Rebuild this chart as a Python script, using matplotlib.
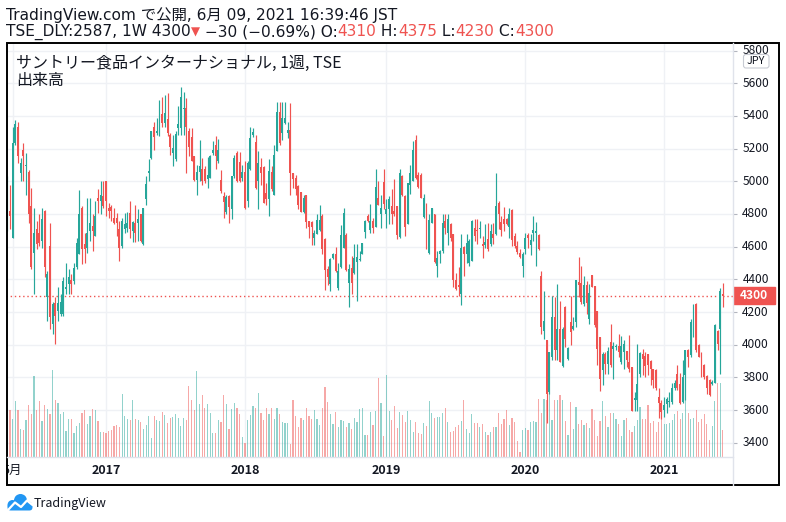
import matplotlib
matplotlib.use('Agg')
import matplotlib.pyplot as plt
import numpy as np
import pandas as pd
from matplotlib import transforms
from matplotlib.patches import Rectangle, FancyBboxPatch, Circle

plt.rcParams['font.family'] = ['Noto Sans CJK JP', 'DejaVu Sans']
HEAD_FONT = ['DejaVu Sans', 'Noto Sans CJK JP']

# ---------------- data (weekly, TSE:2587) ----------------
start_date = '2016-04-18'

opens = [4757,4818,4655,5234,5335,5051,5189,5093,5057,4848,
4564,4706,4686,4635,4818,4290,4605,4127,4253,4209,
4188,4188,4341,4371,4395,4391,4473,4554,4838,4615,
4594,4696,4726,4665,4899,4879,4909,5000,4838,4842,
4777,4777,4706,4605,4706,4716,4808,4696,4747,4747,
4797,4615,4889,5051,5142,5335,5295,5305,5410,5356,
5380,5285,5173,5138,5325,5325,5443,5447,5305,5274,
5153,5011,5057,5077,5077,5017,5021,5173,5224,5122,
5011,4909,4814,4909,4828,5031,5173,5118,5021,5057,
4879,5077,5285,5238,5000,5086,5086,4929,4889,5057,
4919,5183,5427,5295,5356,5295,5315,5049,5021,4970,
4935,4814,4919,4757,4753,4655,4676,4700,4787,4645,
4462,4371,4529,4554,4347,4473,4594,4671,4375,4468,
4436,4509,4519,4558,4692,4787,4700,4757,4720,4899,
4797,4996,4797,4828,4848,4818,4848,4659,5031,4909,
4741,4980,5000,5254,5037,5037,4781,4858,4564,4747,
4797,4483,4558,4574,4757,4686,4736,4676,4395,4367,
4310,4598,4554,4497,4513,4716,4700,4706,4615,4611,
4645,4615,4676,4676,4868,4753,4767,4767,4720,4822,
4665,4605,4564,4483,4584,4671,4611,4686,4686,4671,
4422,4083,4030,3711,3924,4172,3965,4097,3870,4233,
3914,4138,4097,4138,4381,4375,4249,4367,4158,4428,
4361,4209,4046,3843,3945,3880,4016,3975,3985,3989,
3894,3955,3961,3894,3864,3661,3661,3823,3941,3929,
3945,3900,3853,3847,3677,3640,3600,3636,3650,3650,
3732,3823,3762,3650,3813,3969,3935,4107,4249,3996,
3935,3874,3807,3782,3762,3766,4083,4097,4310]

highs = [5035,4980,5331,5376,5366,5142,5234,5173,5070,4960,
4838,4757,4797,4838,4825,4452,4747,4259,4290,4351,
4310,4412,4497,4462,4432,4503,4655,4944,4848,4686,
4899,4899,4797,4879,4950,5000,5000,5000,4868,4858,
4838,4808,4757,4777,4808,4814,4879,4757,4854,4828,
4801,4838,5031,5138,5309,5366,5386,5498,5518,5528,
5538,5295,5285,5305,5463,5579,5548,5508,5325,5325,
5153,5102,5254,5142,5092,5147,5159,5244,5280,5260,
5071,4935,4919,4919,5031,5159,5187,5179,5102,5122,
5122,5335,5329,5285,5187,5142,5092,4990,5138,5092,
5224,5488,5488,5488,5488,5366,5477,5051,5041,4980,
4935,4919,4919,4757,4757,4700,4797,4854,4797,4655,
4483,4533,4564,4598,4503,4732,4838,4686,4493,4544,
4615,4615,4574,4625,4761,4797,4862,4777,5077,5000,
4919,5077,4889,4909,4950,5017,4848,5077,5041,4919,
4990,5102,5248,5285,5057,5051,4923,4868,4797,4838,
4801,4574,4578,4801,4797,4801,4747,4676,4436,4473,
4680,4605,4676,4645,4761,4767,4767,4757,4665,4741,
4747,4741,4747,5051,4879,4787,4842,4773,4834,4828,
4686,4635,4584,4570,4686,4686,4676,4787,4753,4676,
4448,4330,4030,3955,4300,4290,4371,4270,4107,4239,
3985,4300,4168,4395,4538,4483,4422,4391,4371,4428,
4361,4209,4046,3955,3955,3985,4127,4016,4006,4067,
4056,4026,3961,4062,3864,3711,4006,3955,3975,3955,
3945,3908,3853,3853,3732,3661,3681,3681,3711,3766,
3782,3874,3827,3904,3965,3975,4158,4249,4253,4002,
3955,3884,3813,3792,3782,4127,4091,4345,4375]

lows = [4696,4706,4651,5224,5112,5000,5000,4919,4747,4466,
4310,4584,4605,4594,4412,4148,4097,4067,4006,4148,
4178,4178,4310,4310,4310,4371,4462,4554,4493,4503,
4564,4635,4574,4665,4808,4797,4838,4787,4777,4757,
4737,4665,4513,4594,4686,4692,4655,4629,4631,4635,
4631,4611,4854,5000,5136,5189,5285,5280,5335,5335,
5280,5163,5092,5122,5285,5285,5285,5051,5153,5122,
5000,4919,5000,4980,4990,4960,5021,5163,5077,5112,
4929,4777,4803,4747,4771,5021,4996,4996,5000,4828,
4842,5071,5274,4956,4832,4980,4868,4858,4787,4939,
4919,5183,5224,5254,5350,5264,4919,4960,4919,4828,
4814,4808,4716,4655,4611,4611,4676,4696,4558,4335,
4367,4330,4523,4442,4335,4468,4590,4452,4233,4310,
4432,4270,4513,4554,4655,4753,4686,4686,4720,4858,
4716,4828,4716,4736,4741,4787,4645,4651,4909,4665,
4736,4923,5000,5017,4960,4899,4777,4584,4558,4747,
4503,4416,4503,4564,4676,4611,4635,4355,4335,4300,
4245,4422,4503,4483,4513,4635,4615,4655,4533,4594,
4574,4605,4615,4671,4706,4665,4696,4732,4655,4605,
4594,4554,4529,4416,4554,4594,4550,4635,4483,4578,
4067,4036,3518,3701,3904,3904,3904,3894,3864,3985,
3908,3996,4087,4107,4290,4249,4239,4188,4127,4351,
4107,3874,3717,3752,3823,3823,3864,3792,3965,3924,
3884,3853,3864,3833,3596,3596,3596,3803,3813,3803,
3813,3752,3732,3721,3549,3543,3559,3579,3620,3636,
3721,3721,3636,3640,3661,3864,3924,4046,3955,3924,
3803,3792,3701,3685,3752,3766,3965,3823,4230]

closes = [4889,4787,5234,5350,5153,5112,5153,5101,4797,4473,
4686,4615,4625,4767,4473,4432,4168,4249,4178,4253,
4259,4391,4351,4412,4371,4468,4625,4803,4584,4584,
4686,4747,4696,4787,4879,4919,4848,4879,4818,4818,
4747,4747,4594,4757,4737,4747,4706,4753,4686,4771,
4635,4838,4984,5065,5305,5274,5305,5457,5356,5417,
5295,5213,5207,5289,5350,5518,5447,5335,5213,5122,
5011,5057,5092,5000,5000,5037,5153,5189,5153,5193,
4939,4874,4903,4842,5031,5142,5000,5000,5057,4838,
5112,5268,5301,4960,5112,5051,4868,4889,5061,4950,
5163,5427,5234,5390,5390,5315,5051,5017,4950,4858,
4814,4899,4753,4720,4720,4686,4761,4761,4584,4456,
4412,4523,4554,4452,4448,4671,4808,4456,4462,4375,
4533,4538,4527,4621,4757,4757,4757,4716,4964,4858,
4838,4862,4828,4889,4801,4801,4671,5051,4915,4720,
4990,5051,5193,5021,4964,4899,4899,4635,4761,4838,
4509,4533,4574,4747,4716,4767,4651,4395,4341,4351,
4594,4558,4625,4635,4757,4665,4696,4716,4605,4631,
4584,4696,4655,4848,4797,4700,4741,4741,4801,4639,
4605,4570,4538,4554,4651,4651,4639,4700,4696,4584,
4107,4148,3701,3955,4172,3965,4097,3894,4097,4036,
3979,4077,4117,4395,4367,4259,4367,4253,4314,4351,
4123,3975,3792,3941,3884,3961,3874,3989,3991,3955,
3989,4006,3904,3853,3596,3671,3762,3949,3914,3868,
3874,3853,3782,3732,3640,3590,3630,3665,3656,3732,
3766,3732,3640,3803,3965,3924,4138,4138,3965,3924,
3803,3803,3732,3691,3772,4123,4006,4330,4300]

volumes = [122,140,115,167,140,85,80,110,155,128,
242,140,167,107,155,145,128,260,172,162,
128,134,77,115,115,72,92,102,132,142,
98,122,145,142,107,75,75,72,78,80,
94,95,90,188,122,115,112,172,115,112,
104,85,95,122,58,122,110,107,135,125,
102,117,120,128,117,92,118,112,212,170,
142,257,158,185,147,158,132,72,72,112,
105,185,158,85,145,162,147,128,60,42,
112,125,152,147,191,132,110,147,128,148,
113,147,128,104,102,102,38,172,122,90,
118,112,148,122,115,140,115,95,148,210,
164,128,100,134,90,110,107,90,102,83,
118,104,143,148,65,
65,135,95,137,237,162,62,245,137,
110,152,87,135,125,105,137,112,75,105,
72,70,102,92,167,132,118,120,120,132,
147,105,75,78,90,95,107,172,85,72,
130,102,102,90,100,75,65,75,90,90,
132,100,115,140,95,118,105,48,15,82,
87,82,105,107,105,175,132,175,170,195,
110,172,170,187,172,108,65,165,85,150,
98,110,95,102,88,145,110,62,107,167,
122,90,132,132,115,98,62,112,118,82,
75,92,112,150,115,115,157,102,108,75,
105,137,98,98,102,110,128,137,115,132,
192,132,115,118,140,105,115,128,98,52,
92,168,222,222,82]

price_levels = [3400, 3600, 3800, 4000, 4200, 4400, 4600, 4800, 5000, 5200, 5400, 5600, 5800]
tick_dates = ['2016-05-02', '2017-01-02', '2018-01-01', '2019-01-07', '2020-01-06', '2021-01-04']
tick_labels = ['5月', '2017', '2018', '2019', '2020', '2021']

header1 = 'TradingView.com で公開, 6月 09, 2021 16:39:46 JST'
symbol = 'TSE_DLY:2587, 1W'
change_txt = ' \u221230 (\u22120.69%)'
title_txt = 'サントリー食品インターナショナル, 1週, TSE'
volume_txt = '出来高'

# ---------------- layout ----------------
UP, DN = '#26a69a', '#ef5350'
TXT = '#131722'
W, H = 786, 522
fig = plt.figure(figsize=(W / 100, H / 100), dpi=100)
fig.patch.set_facecolor('white')


def frac(x0, y0, x1, y1):
    return [x0 / W, 1 - y1 / H, (x1 - x0) / W, (y1 - y0) / H]


PL, PR, PT, PB = 6.5, 733.3, 43.0, 457.0
FR, FB = 779.0, 485.0
STEP, X0 = 2.67, 7.3

o = np.array(opens, float)
h = np.array(highs, float)
l = np.array(lows, float)
c = np.array(closes, float)
v = np.array(volumes, float)
n = len(c)
x = np.arange(n)
dates = pd.date_range(start_date, periods=n, freq='7D')
tick_pos = dates.get_indexer(pd.to_datetime(tick_dates))

xlim = ((PL - X0) / STEP, (PR - X0) / STEP)
ylim = (3312.5, 5846.7)

ax_vol = fig.add_axes(frac(PL, PT, PR, PB))
ax = fig.add_axes(frac(PL, PT, PR, PB))
for a in (ax_vol, ax):
    a.set_xlim(*xlim)
    a.axis('off')
ax.set_ylim(*ylim)
ax_vol.set_ylim(0, 1241)

# grid (behind volume)
GRID = '#eff1f5'
for p in tick_pos:
    ax_vol.axvline(p, color=GRID, lw=1, zorder=0)
gtrans = transforms.blended_transform_factory(ax_vol.transAxes, ax.transData)
for lvl in price_levels:
    ax_vol.plot([0, 1], [lvl, lvl], transform=gtrans, color=GRID, lw=1, zorder=0)

up = c >= o
cols = np.where(up, UP, DN)
ax_vol.bar(x, v, width=0.45, color=cols, alpha=0.5, linewidth=0, zorder=2)

# candles
ax.axhline(c[-1], color=DN, lw=1, ls=(0, (1, 2)), zorder=1)
ax.vlines(x, l, h, colors=cols, linewidth=0.85, zorder=3)
ax.bar(x, np.maximum(np.abs(c - o), 6), bottom=np.minimum(o, c), width=0.74,
       color=cols, linewidth=0, zorder=4)

# price scale
ax_p = fig.add_axes(frac(PR, PT, FR, PB))
ax_p.set_xlim(0, FR - PR)
ax_p.set_ylim(*ylim)
ax_p.axis('off')
ax_p.hlines(price_levels, 0, 3.5, color='#b2b5be', lw=0.8)
for lvl in price_levels:
    ax_p.text(22.3, lvl, f'{lvl}', ha='center', va='center', fontsize=8.6,
              color=TXT, clip_on=True)
ax_p.add_patch(Rectangle((0, c[-1] - 52), 41.7, 104, color=DN, zorder=5))
ax_p.text(21, c[-1], f'{int(c[-1])}', ha='center', va='center', fontsize=8.6,
          color='white', fontweight='bold', zorder=6)

# time scale
ax_t = fig.add_axes(frac(PL, PB, PR, FB))
ax_t.set_xlim(*xlim)
ax_t.set_ylim(FB, PB)
ax_t.axis('off')
for p, lab in zip(tick_pos, tick_labels):
    ax_t.text(p, 470.7, lab, ha='center', va='center', fontsize=9, color=TXT,
              fontweight='normal' if lab.endswith('月') else 'bold', clip_on=True)

# overlay (pixel coordinates)
ov = fig.add_axes([0, 0, 1, 1], zorder=10)
ov.set_xlim(0, W)
ov.set_ylim(H, 0)
ov.axis('off')
ov.plot([PR, PR], [PT, FB], color='#e0e3eb', lw=1)
ov.plot([PL, PR], [PB, PB], color='#e0e3eb', lw=1)
ov.add_patch(Rectangle((PL, PT), FR - PL, FB - PT, fill=False, ec='black', lw=1.4))
ov.add_patch(FancyBboxPatch((743.5, 54.5), 25.5, 13.5,
                            boxstyle='round,pad=0,rounding_size=2.5',
                            fc='white', ec='#c8cbd3', lw=0.8))
ov.text(756.2, 61.3, 'JPY', ha='center', va='center', fontsize=7.8, color=TXT)

HS = 11.1
ov.text(6, 15, header1, fontsize=HS, va='center', color=TXT, family=HEAD_FONT)
renderer = fig.canvas.get_renderer()
pieces = [(symbol + ' ' + f'{int(c[-1])}', TXT, HS),
          ('\u25bc', DN, 8.5),
          (change_txt + ' O:', TXT, HS), (f'{int(o[-1])}', DN, HS),
          (' H:', TXT, HS), (f'{int(h[-1])}', DN, HS),
          (' L:', TXT, HS), (f'{int(l[-1])}', DN, HS),
          (' C:', TXT, HS), (f'{int(c[-1])}', DN, HS)]
xc = 6
for s, col, fs in pieces:
    t = ov.text(xc, 32, s, fontsize=fs, va='center', color=col, family=HEAD_FONT)
    xc += t.get_window_extent(renderer).width

ov.text(16, 63, title_txt, fontsize=11.5, va='center', color=TXT)
ov.text(16, 81, volume_txt, fontsize=11.5, va='center', color=TXT)

# footer logo
LOGO = '#2196f3'
for cx, cy, r in [(12.5, 505, 5), (20.5, 500.5, 6.5), (28, 505.5, 4.2)]:
    ov.add_patch(Circle((cx, cy), r, color=LOGO, lw=0))
ov.add_patch(FancyBboxPatch((7.5, 504), 25, 6.5, boxstyle='round,pad=0,rounding_size=3.2',
                            color=LOGO, lw=0))
ov.plot([8.5, 15, 21, 27, 32.5], [509.5, 502.5, 507, 500.5, 505], color='white', lw=1.6,
        solid_capstyle='round', solid_joinstyle='round')
ov.text(34, 503, 'TradingView', fontsize=9.0, va='center', color=TXT)

fig.savefig('out.png', dpi=100)
